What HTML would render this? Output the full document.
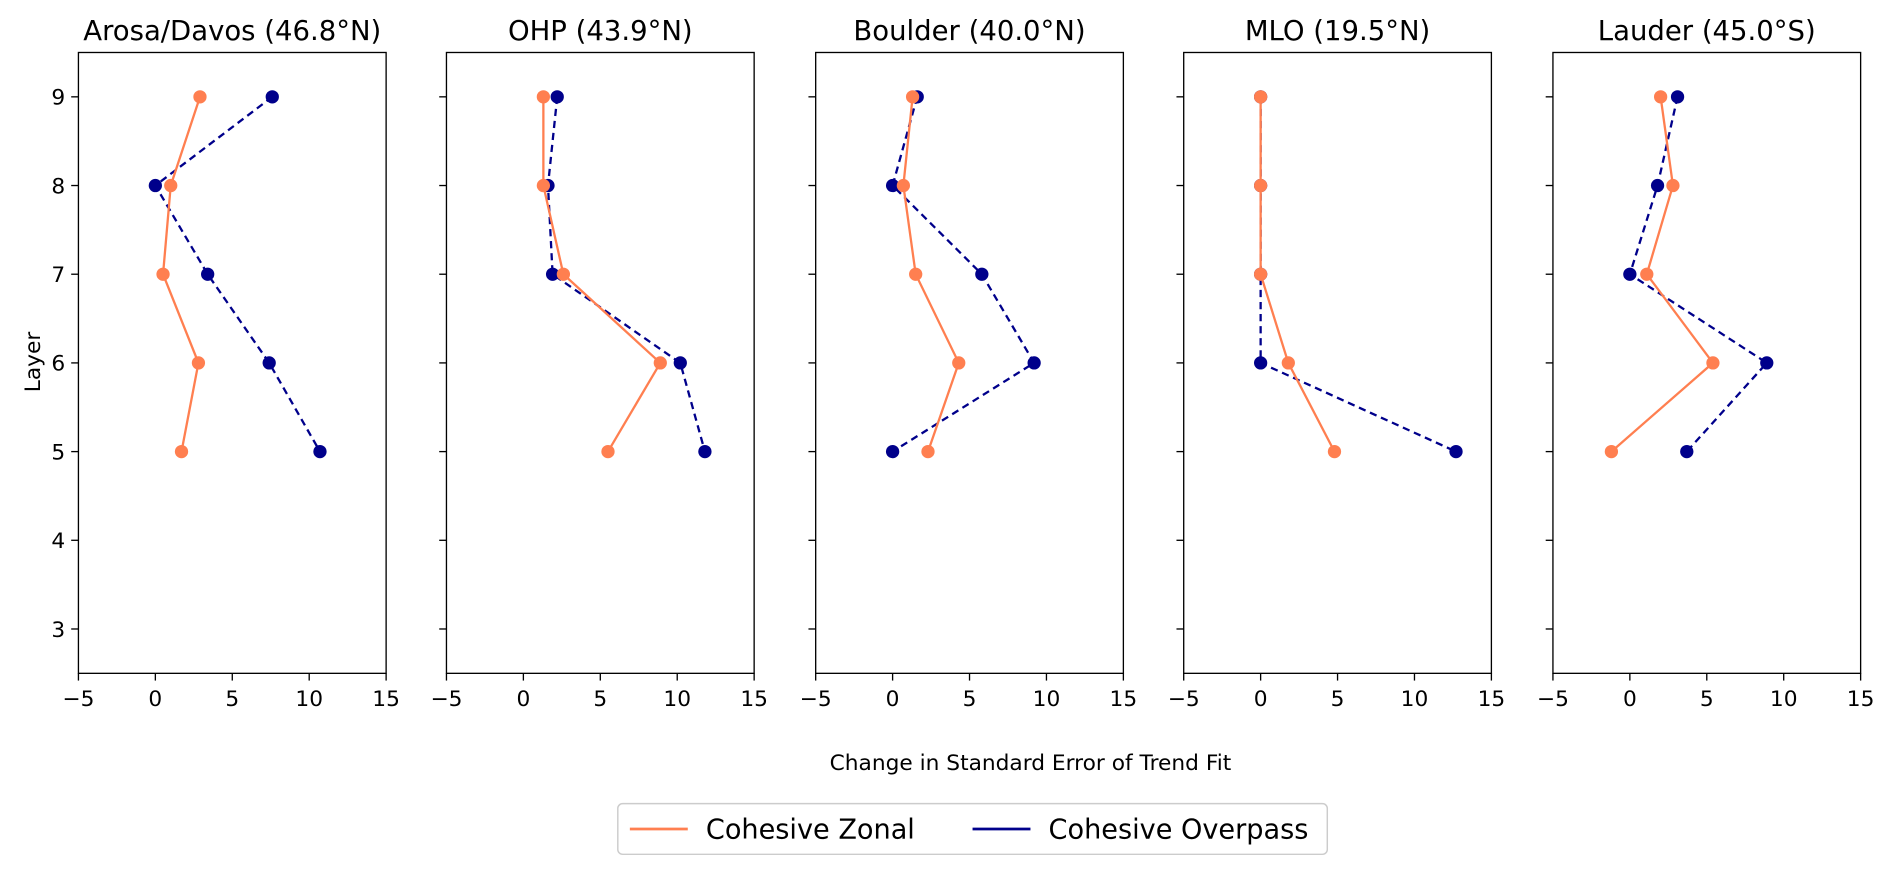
<!DOCTYPE html>
<html><head><meta charset="utf-8">
<style>
html,body{margin:0;padding:0;background:#fff;}
svg{display:block;font-family:"DejaVu Sans","Liberation Sans",sans-serif;}
</style></head>
<body>
<svg id="chart" width="1892" height="874" viewBox="0 0 1568 724.3" preserveAspectRatio="none" xmlns="http://www.w3.org/2000/svg"></svg>
<script>
const stations = ["Arosa/Davos (46.8°N)","OHP (43.9°N)","Boulder (40.0°N)","MLO (19.5°N)","Lauder (45.0°S)"];
const layers = [9,8,7,6,5];
const zonalValues = [
  [2.9,1.0,0.5,2.8,1.7],
  [1.3,1.3,2.6,8.9,5.5],
  [1.3,0.7,1.5,4.3,2.3],
  [0,0,0,1.8,4.8],
  [2.0,2.8,1.1,5.4,-1.2]
];
const overpassValues = [
  [7.6,0,3.4,7.4,10.7],
  [2.2,1.6,1.9,10.2,11.8],
  [1.6,0,5.8,9.2,0],
  [0,0,0,0,12.7],
  [3.1,1.8,0,8.9,3.7]
];
const xTicks = [-5,0,5,10,15];
const yTicks = [3,4,5,6,7,8,9];

const NS="http://www.w3.org/2000/svg";
const svg=document.getElementById('chart');
function mk(tag,attrs,parent){const e=document.createElementNS(NS,tag);for(const k in attrs)e.setAttribute(k,attrs[k]);(parent||svg).appendChild(e);return e;}

const panelLeft=[65,370,676,981,1287], panelW=255, plotTop=43.5, plotBottom=558;
const xMin=-5,xMax=15,yMin=2.5,yMax=9.5;
const ORANGE="#ff7f50", NAVY="#00008b";

stations.forEach((stName,i)=>{
  const L=panelLeft[i];
  const xs=v=>L+(v-xMin)/(xMax-xMin)*panelW;
  const ys=v=>plotBottom-(v-yMin)/(yMax-yMin)*(plotBottom-plotTop);
  const g=mk('g',{});
  
  
  const frame=mk('rect',{x:L,y:plotTop,width:panelW,height:plotBottom-plotTop,fill:'none',stroke:'#000','stroke-width':1.1},g);
  
  
  const t=mk('text',{x:L+panelW/2,y:33,'text-anchor':'middle','font-size':22.8,fill:'#000'},g);
  t.textContent=stName;
  
  
  xTicks.forEach(v=>{
    mk('line',{x1:xs(v),x2:xs(v),y1:plotBottom,y2:plotBottom+6,stroke:'#000','stroke-width':1.1},g);
    const tx=mk('text',{x:xs(v),y:plotBottom+27,'text-anchor':'middle','font-size':18,fill:'#000'},g);
    tx.textContent=v<0?'\u2212'+Math.abs(v):String(v);
    
    
  });
  yTicks.forEach(v=>{
    mk('line',{x1:L-6,x2:L,y1:ys(v),y2:ys(v),stroke:'#000','stroke-width':1.1},g);
    if(i===0){
      const ty=mk('text',{x:L-11,y:ys(v)+6.5,'text-anchor':'end','font-size':18,fill:'#000'},g);
      ty.textContent=String(v);
      
      
    }
  });
  const series=[[overpassValues[i],NAVY,'6,4','overpass'],[zonalValues[i],ORANGE,null,'zonal']];
  series.forEach(([vals,col,dash,nm])=>{
    const pts=vals.map((v,k)=>xs(v)+','+ys(layers[k])).join(' ');
    const a={points:pts,fill:'none',stroke:col,'stroke-width':1.9};
    if(dash)a['stroke-dasharray']=dash;
    const pl=mk('polyline',a,g);
    
    
    vals.forEach((v,k)=>{
      const c=mk('circle',{cx:xs(v),cy:ys(layers[k]),r:5.5,fill:col},g);
      
      
    });
  });
});

const yl=mk('text',{x:0,y:0,transform:'translate(33,300) rotate(-90)','text-anchor':'middle','font-size':18,fill:'#000'});
yl.textContent='Layer';


const xl=mk('text',{x:854,y:638,'text-anchor':'middle','font-size':18,fill:'#000'});
xl.textContent='Change in Standard Error of Trend Fit';



const lg=mk('g',{});


mk('rect',{x:512,y:666,width:588,height:42,rx:4,fill:'#fff',stroke:'#ccc','stroke-width':1.2},lg);
const e1=mk('g',{},lg);


mk('line',{x1:522,x2:570,y1:687,y2:687,stroke:ORANGE,'stroke-width':2.2},e1);
const t1=mk('text',{x:585,y:695,'font-size':22.5,fill:'#000'},e1);t1.textContent='Cohesive Zonal';
const e2=mk('g',{},lg);


mk('line',{x1:806,x2:854,y1:687,y2:687,stroke:NAVY,'stroke-width':2.2},e2);
const t2=mk('text',{x:869,y:695,'font-size':22.5,fill:'#000'},e2);t2.textContent='Cohesive Overpass';
</script>
</body></html>
